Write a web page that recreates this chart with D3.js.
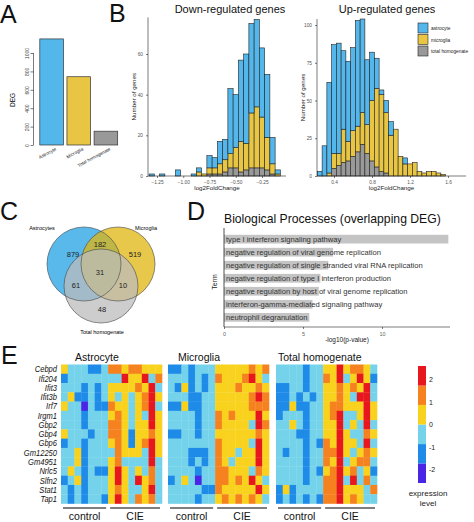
<!DOCTYPE html>
<html><head><meta charset="utf-8">
<script src="https://cdn.jsdelivr.net/npm/d3@7"></script>
<style>body{margin:0;background:#fff}svg{display:block;font-family:"Liberation Sans",Arial,sans-serif}</style>
</head><body><svg id="c" width="474" height="522"></svg>
<script>
// ---------------- DATA ----------------
const degCategories = ["Astrocyte", "Microglia", "Total homogenate"];
const degValues = [1153, 742, 150];
const degTicks = [0, 200, 400, 600, 800, 1000];

const seriesNames = ["astrocyte", "microglia", "total homogenate"];
const seriesColors = ["#54b7ec", "#e9c544", "#999999"];

const downBins  = [-1.30,-1.20,-1.05,-0.90,-0.85,-0.80,-0.75,-0.70,-0.65,-0.60,-0.55,-0.50,-0.45,-0.40,-0.35,-0.30,-0.25,-0.20,-0.15,-0.10];
const downAstro = [1,1,3,1,2,0,6,5,11,10,32,26,40,44,44,43,34,31,13,2];
const downMicro = [0,0,0,0,2,1,3,3,5,6,7,10,15,13,27,30,25,16,5,1];
const downTotal = [0,0,0,0,0,0,1,1,1,2,4,4,2,3,4,4,4,3,1,0];
const downXTicks = [-1.25, -1.00, -0.75, -0.50, -0.25];
const downYTicks = [0, 20, 40, 60];

const upBins  = [0.25,0.30,0.35,0.40,0.45,0.50,0.55,0.60,0.65,0.70,0.75,0.80,0.85,0.90,0.95,1.00,1.05,1.10,1.15,1.20,1.25,1.30,1.35,1.40,1.45,1.50,1.55];
const upAstro = [3,20,60,72,73,52,53,55,70,62,43,32,20,3,8,9,0,0,4,0,0,0,0,0,0,0,0];
const upMicro = [0,0,2,10,8,22,13,17,17,21,19,40,52,51,40,27,31,13,8,8,9,3,2,3,3,2,1];
const upTotal = [0,0,0,5,7,9,10,13,16,21,15,10,6,3,2,0,0,0,0,0,0,0,0,0,0,0,0];
const upXTicks = [0.4, 0.8, 1.2, 1.6];
const upYTicks = [0, 25, 50, 75, 100];

const vennSets = ["Astrocytes", "Microglia", "Total homogenate"];
const vennRegions = ["A", "AM", "M", "AMT", "AT", "MT", "T"];
const vennCounts = [879, 182, 519, 31, 61, 10, 48];

const goTerms = [
  "type I interferon signaling pathway",
  "negative regulation of viral genome replication",
  "negative regulation of single stranded viral RNA replication",
  "negative regulation of type I interferon production",
  "negative regulation by host of viral genome replication",
  "interferon-gamma-mediated signaling pathway",
  "neutrophil degranulation"];
const goValues = [14.2, 6.9, 6.6, 6.1, 6.0, 5.6, 5.4];
const goTicks = [0, 5, 10];

const genes = ["Cebpd","Ifi204","Ifit3","Ifit3b","Irf7","Irgm1","Gbp2","Gbp4","Gbp6","Gm12250","Gm4951","Nrlc5","Slfn2","Stat1","Tap1"];
const heatGroups = ["Astrocyte", "Microglia", "Total homogenate"];
const conditions = ["control", "CIE"];
const controlCount = 7;
// level codes: v=-2.2 b=-1.3 c=-0.4 y=0.4 o=1.3 r=2.2
const levelValues = {v: -2.2, b: -1.3, c: -0.4, y: 0.4, o: 1.3, r: 2.2};
const astroRows = [
  "ycccbbc" + "ooyooyyy",
  "bcccccc" + "ccryyrco",
  "cccbcbc" + "yyyyoyrc",
  "cybbcbc" + "ycycyory",
  "yccvcbb" + "oyycyorc",
  "cccbccc" + "yoycycry",
  "cccbccc" + "ooycyyry",
  "ycccbcc" + "ooybyyoy",
  "bccbccc" + "yoybyory",
  "ccybccc" + "coyyycry",
  "ccybccc" + "yoccccrc",
  "cycbcbb" + "yrycycoc",
  "bcybccc" + "yrycryoc",
  "cbcbccc" + "yoyccyrc",
  "cbcbccb" + "yrycoyoc"];
const microRows = [
  "bbcbccc" + "yyyyyoyo",
  "cccbcbc" + "oyyyoryc",
  "cbybcbc" + "yyyoyyoy",
  "cccbbcc" + "yyyyyoro",
  "bbybbcc" + "yyyyyooo",
  "ccccbcc" + "oyoyyyry",
  "ccccbcc" + "oyyyycro",
  "bbccbcc" + "yyyyyyoy",
  "ccccccc" + "oyyyycry",
  "cccbbbc" + "oyycyyry",
  "cccbcbc" + "oycyyyry",
  "ccccbcc" + "ooyyycoy",
  "bcycvcc" + "ooyoyryc",
  "cccccbb" + "oyyyyyry",
  "ccccbcc" + "yoyoyoyc"];
const totalRows = [
  "ccccbcc" + "yyryooyc",
  "ccccbcc" + "oyrcyryb",
  "bbccbcc" + "yyoyoyrc",
  "bbcbcbc" + "yyoycrrc",
  "bbybbcc" + "yooyyyry",
  "bcccbcc" + "yorccyry",
  "ccycbcc" + "yyrcycrc",
  "cccbbcc" + "yyryccoy",
  "ccccbcb" + "oyryycrc",
  "cbccbcc" + "oorycyoy",
  "ccccbcc" + "oyrcyooc",
  "ccccbcb" + "yoryocyb",
  "ccccbcc" + "oorcrcoc",
  "bybcccc" + "ooryyyco",
  "bcbcbcb" + "ooryoycc"];
const legendTicks = [2, 1, 0, -1, -2];
const legendDomain = [-2.6, 2.6];
const legendThresholds = [-1.73, -0.87, 0, 0.87, 1.73];
const legendColors = ["#4a25e6", "#1f8be8", "#74d3ea", "#f9d21e", "#f5821f", "#e8171d"];

// ---------------- DRAW ----------------
const svg = d3.select("#c");
svg.append("rect").attr("width", 474).attr("height", 522).attr("fill", "#fff");
const FONT = "'Liberation Sans', Arial, sans-serif";

function styleAxis(g, col, size) {
  g.selectAll("path,line").attr("stroke", "#222").attr("stroke-width", 0.6);
  g.selectAll("text").attr("fill", col).style("font-size", size + "px").style("font-family", FONT);
}

// Panel letters
[["A", 0, 23], ["B", 109, 22], ["C", 0, 220], ["D", 187, 220], ["E", 1, 364]].forEach(([t, x, y]) =>
  svg.append("text").attr("x", x).attr("y", y).text(t).style("font-size", "25px").attr("fill", "#111"));

// ---------- Panel A ----------
{
  const y = d3.scaleLinear().domain([0, 1000]).range([145, 53]);
  const x = d3.scaleBand().domain(degCategories).range([39, 118.5]).paddingInner(0.13).paddingOuter(0.03);
  const g = svg.append("g");
  g.selectAll("rect").data(degValues).join("rect")
    .attr("x", (d, i) => x(degCategories[i])).attr("width", x.bandwidth())
    .attr("y", d => y(d)).attr("height", d => y(0) - y(d))
    .attr("fill", (d, i) => seriesColors[i]).attr("stroke", "#333").attr("stroke-width", 0.7);
  const ax = g.append("g").attr("transform", "translate(33.5,0)")
    .call(d3.axisLeft(y).tickValues(degTicks).tickSize(3).tickFormat(d3.format("d")));
  ax.select(".domain").attr("d", `M0,${y(0)}V${y(1000)}`);
  styleAxis(ax, "#444", 5);
  ax.selectAll("text").attr("transform", "rotate(-90)").attr("x", 0).attr("y", -5).attr("dy", 0)
    .attr("text-anchor", "middle");
  g.append("text").attr("transform", "translate(15,100) rotate(-90)").attr("text-anchor", "middle")
    .style("font-size", "6.5px").text("DEG");
  g.selectAll(".cat").data(degCategories).join("text")
    .attr("transform", d => `translate(${x(d) + x.bandwidth() / 2 + 5},150) rotate(-28)`)
    .attr("text-anchor", "end").style("font-size", "4.6px").attr("fill", "#222").text(d => d);
}

// ---------- Panel B histograms ----------
function histo(opts) {
  const {bins, astro, micro, total, x, y, xTicks, yTicks, title, titleX, xFmt, left, right} = opts;
  const g = svg.append("g");
  const rows = bins.map((b, i) => ({bin: b, total: total[i], micro: micro[i], astro: astro[i]}));
  const stack = d3.stack().keys(["total", "micro", "astro"])(rows);
  const colorOf = {astro: seriesColors[0], micro: seriesColors[1], total: seriesColors[2]};
  const bw = Math.abs(x(0.05) - x(0));
  stack.forEach(layer => {
    g.append("g").selectAll("rect").data(layer.filter(d => d[1] > d[0])).join("rect")
      .attr("x", d => x(d.data.bin) - bw / 2).attr("width", bw)
      .attr("y", d => y(d[1])).attr("height", d => y(d[0]) - y(d[1]))
      .attr("fill", colorOf[layer.key]).attr("stroke", "#222").attr("stroke-width", 0.6);
  });
  const ax = g.append("g").attr("transform", `translate(0,${y(0)})`)
    .call(d3.axisBottom(x).tickValues(xTicks).tickSize(2).tickFormat(xFmt));
  ax.select(".domain").attr("d", `M${left},0H${right}`);
  styleAxis(ax, "#555", 4.8);
  const ay = g.append("g").attr("transform", `translate(${left},0)`)
    .call(d3.axisLeft(y).tickValues(yTicks).tickSize(2));
  ay.select(".domain").attr("d", `M0,${y(0)}V${y.range()[1]}`);
  styleAxis(ay, "#555", 4.8);
  g.append("text").attr("x", titleX).attr("y", 13).attr("text-anchor", "middle")
    .style("font-size", "11px").attr("fill", "#111").text(title);
  g.append("text").attr("x", (left + right) / 2).attr("y", 190).attr("text-anchor", "middle")
    .style("font-size", "6.2px").attr("fill", "#222").text("log2FoldChange");
  g.append("text").attr("transform", `translate(${left - 12},${(y(0) + y.range()[1]) / 2}) rotate(-90)`)
    .attr("text-anchor", "middle").style("font-size", "6.2px").attr("fill", "#222").text("Number of genes");
  return g;
}
histo({bins: downBins, astro: downAstro, micro: downMicro, total: downTotal,
  x: d3.scaleLinear().domain([-1.25, -0.25]).range([157, 262]),
  y: d3.scaleLinear().domain([0, 78]).range([176, 17.4]),
  xTicks: downXTicks, yTicks: downYTicks, title: "Down-regulated genes", titleX: 230,
  xFmt: d3.format(".2f"), left: 148, right: 286});
histo({bins: upBins, astro: upAstro, micro: upMicro, total: upTotal,
  x: d3.scaleLinear().domain([0.4, 1.6]).range([334, 448]),
  y: d3.scaleLinear().domain([0, 104]).range([176, 19]),
  xTicks: upXTicks, yTicks: upYTicks, title: "Up-regulated genes", titleX: 387,
  xFmt: d3.format(".1f"), left: 317, right: 466});
// legend
{
  const lg = svg.append("g");
  seriesNames.forEach((s, i) => {
    lg.append("rect").attr("x", 418).attr("y", 23 + i * 11.5).attr("width", 10).attr("height", 10)
      .attr("fill", seriesColors[i]).attr("stroke", "#222").attr("stroke-width", 0.6);
    lg.append("text").attr("x", 431).attr("y", 30 + i * 11.5).style("font-size", "4.8px").attr("fill", "#222").text(s);
  });
}

// ---------- Panel C Venn ----------
{
  const g = svg.append("g");
  const r = 37;
  const centers = [[84, 264], [118, 264], [101, 286]];
  const fills = ["rgb(35,162,228)", "rgb(224,182,15)", "rgb(188,188,188)"];
  centers.forEach((c, i) => g.append("circle").attr("cx", c[0]).attr("cy", c[1]).attr("r", r)
    .attr("fill", fills[i]).attr("fill-opacity", 0.75));
  centers.forEach((c) => g.append("circle").attr("cx", c[0]).attr("cy", c[1]).attr("r", r)
    .attr("fill", "none").attr("stroke", "#444").attr("stroke-width", 0.6));
  const off = {A: [-11, -10], AM: [16, -20], M: [51, -10], AMT: [16, 8], AT: [-8, 21], MT: [39, 21], T: [18, 45]};
  vennRegions.forEach((k, i) => g.append("text").attr("x", centers[0][0] + off[k][0]).attr("y", centers[0][1] + off[k][1] + 2.5)
    .attr("text-anchor", "middle").style("font-size", "7.5px").attr("fill", "#222").text(vennCounts[i]));
  g.append("text").attr("x", 42).attr("y", 230).attr("text-anchor", "middle").style("font-size", "5.5px").text(vennSets[0]);
  g.append("text").attr("x", 146).attr("y", 230).attr("text-anchor", "middle").style("font-size", "5.5px").text(vennSets[1]);
  g.append("text").attr("x", 102).attr("y", 334).attr("text-anchor", "middle").style("font-size", "5.5px").text(vennSets[2]);
}

// ---------- Panel D GO bars ----------
{
  const g = svg.append("g");
  const x = d3.scaleLinear().domain([0, 10]).range([224, 382]);
  const y = d3.scaleBand().domain(goTerms).range([230.5, 326]).padding(0.33);
  g.selectAll("rect").data(goValues).join("rect")
    .attr("x", x(0)).attr("y", (d, i) => y(goTerms[i])).attr("height", y.bandwidth())
    .attr("width", d => x(d) - x(0)).attr("fill", "#c4c4c4");
  g.append("g").attr("opacity", 0.999).selectAll("text").data(goTerms).join("text")
    .attr("x", x(0) + 2).attr("y", d => y(d) + y.bandwidth() / 2 + 2.6)
    .style("font-size", "7.6px").attr("fill", "#333").text(d => d);
  const ax = g.append("g").attr("transform", "translate(0,327)")
    .call(d3.axisBottom(x).tickValues(goTicks).tickSize(2));
  ax.select(".domain").attr("d", `M${x(0)},0H450`);
  styleAxis(ax, "#666", 5.5);
  g.append("line").attr("x1", x(0)).attr("x2", x(0)).attr("y1", 228).attr("y2", 327).attr("stroke", "#222").attr("stroke-width", 0.8);
  g.append("text").attr("x", 224).attr("y", 223).style("font-size", "12.2px").attr("fill", "#111")
    .text("Biological Processes (overlapping DEG)");
  g.append("text").attr("transform", "translate(217,282) rotate(-90)").attr("text-anchor", "middle")
    .style("font-size", "7px").attr("fill", "#222").text("Term");
  g.append("text").attr("x", 347).attr("y", 342).attr("text-anchor", "middle")
    .style("font-size", "6.5px").attr("fill", "#222").text("-log10(p-value)");
}

// ---------- Panel E heatmaps ----------
{
  const color = d3.scaleThreshold().domain(legendThresholds).range(legendColors);
  const groupData = [astroRows, microRows, totalRows];
  const lefts = [61, 168, 276];
  const width = 101;
  const y = d3.scaleBand().domain(genes).range([364.5, 503.5]);
  const g = svg.append("g");
  groupData.forEach((rows, gi) => {
    const ncol = rows[0].length;
    const x = d3.scaleBand().domain(d3.range(ncol)).range([lefts[gi], lefts[gi] + width]);
    const cells = [];
    rows.forEach((row, ri) => row.split("").forEach((ch, ci) => cells.push({gene: genes[ri], col: ci, v: levelValues[ch]})));
    g.append("g").selectAll("rect").data(cells).join("rect")
      .attr("x", d => x(d.col)).attr("y", d => y(d.gene))
      .attr("width", x.bandwidth() + 0.3).attr("height", y.bandwidth() + 0.3)
      .attr("fill", d => color(d.v));
    const titleX = [75, 178, 278][gi];
    g.append("text").attr("x", titleX).attr("y", 361).style("font-size", "10.5px").attr("fill", "#111").text(heatGroups[gi]);
    const segs = [[0, controlCount - 1], [controlCount, ncol - 1]];
    segs.forEach((s, si) => {
      const x1 = x(s[0]) + 2, x2 = x(s[1]) + x.bandwidth() - 2;
      g.append("line").attr("x1", x1).attr("x2", x2).attr("y1", 508).attr("y2", 508)
        .attr("stroke", "#555").attr("stroke-width", 1.6);
      g.append("text").attr("x", (x1 + x2) / 2).attr("y", 520).attr("text-anchor", "middle")
        .style("font-size", "10.5px").attr("fill", "#111").text(conditions[si]);
    });
  });
  g.selectAll(".gene").data(genes).join("text")
    .attr("transform", d => `translate(57,${y(d) + y.bandwidth() / 2 + 3.2}) scale(0.86,1)`)
    .attr("text-anchor", "end").style("font-size", "8.8px").style("font-style", "italic").attr("fill", "#111").text(d => d);

  const ly = d3.scaleLinear().domain(legendDomain).range([483, 366]);
  const bounds = [legendDomain[0], ...legendThresholds, legendDomain[1]];
  legendColors.forEach((c, i) => g.append("rect").attr("x", 418).attr("width", 8)
    .attr("y", ly(bounds[i + 1])).attr("height", ly(bounds[i]) - ly(bounds[i + 1])).attr("fill", c));
  legendTicks.forEach(t => g.append("text").attr("x", 429).attr("y", ly(t) + 2.5)
    .style("font-size", "7px").attr("fill", "#222").text(t));
  g.append("text").attr("x", 428).attr("y", 496).attr("text-anchor", "middle").style("font-size", "8px").attr("fill", "#222").text("expression");
  g.append("text").attr("x", 428).attr("y", 506).attr("text-anchor", "middle").style("font-size", "8px").attr("fill", "#222").text("level");
}
</script></body></html>
